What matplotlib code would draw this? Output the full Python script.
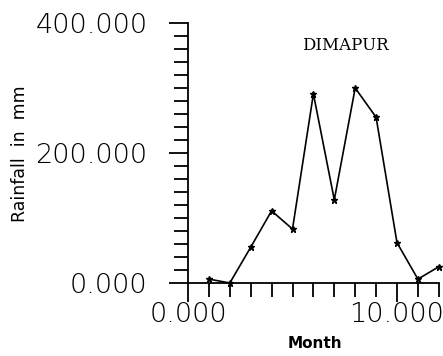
import matplotlib.pyplot as plt
from matplotlib.ticker import MultipleLocator, FormatStrFormatter

# Monthly rainfall at Dimapur
months = [1, 2, 3, 4, 5, 6, 7, 8, 9, 10, 11, 12]
rainfall = [6, 0, 55, 111, 83, 291, 128, 300, 255, 62, 6, 25]

x_major = [0, 10]
y_major = [0, 200, 400]

fig = plt.figure(figsize=(4.43, 3.56), dpi=100)
ax = fig.add_axes([188 / 443, 73 / 356, 250.8 / 443, 260 / 356])

ax.plot(months, rainfall, color="black", linewidth=1.2, marker="*",
        markersize=5, clip_on=False)

ax.set_xlim(0, 12)
ax.set_ylim(0, 400)
ax.set_xticks(x_major)
ax.set_yticks(y_major)
ax.xaxis.set_minor_locator(MultipleLocator(1))
ax.yaxis.set_minor_locator(MultipleLocator(20))
ax.xaxis.set_major_formatter(FormatStrFormatter("%.3f"))
ax.yaxis.set_major_formatter(FormatStrFormatter("%.3f"))

for side in ["top", "right"]:
    ax.spines[side].set_visible(False)
for side in ["left", "bottom"]:
    ax.spines[side].set_linewidth(1.3)

ax.tick_params(axis="both", which="both", direction="out", width=1.3, color="black")
ax.tick_params(axis="both", which="major", length=14)
ax.tick_params(axis="both", which="minor", length=10)
ax.tick_params(axis="y", which="major", pad=15, labelsize=19.5)
ax.tick_params(axis="x", which="major", pad=0, labelsize=19.5)
for lab in ax.get_xticklabels() + ax.get_yticklabels():
    lab.set_fontweight("light")

fig.text(345 / 443, 1 - 46 / 356, "DIMAPUR", family="DejaVu Serif",
         fontsize=12, ha="center", va="center")
fig.text(315 / 443, 1 - 343 / 356, "Month", fontsize=11, fontweight="bold",
         ha="center", va="center")
fig.text(20 / 443, 1 - 154 / 356, "Rainfall  in  mm", fontsize=12.5,
         rotation=90, ha="center", va="center")

fig.savefig("out.png", dpi=100, facecolor="white")
